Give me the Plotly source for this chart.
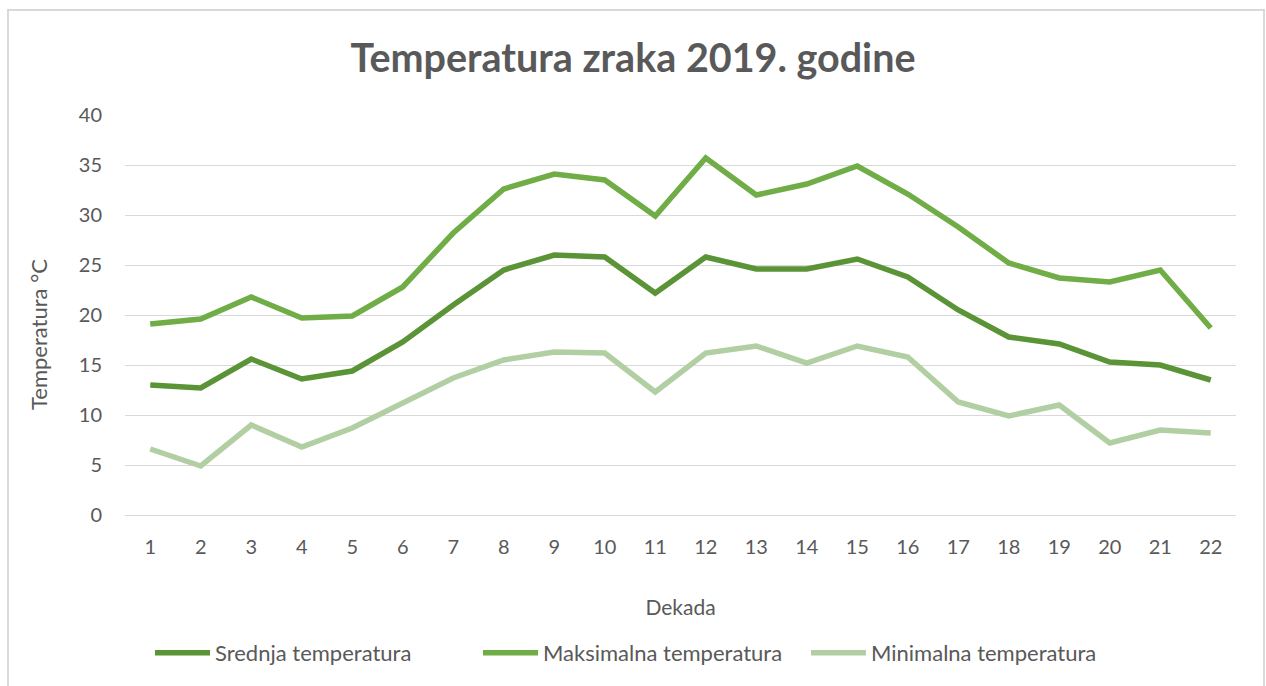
import plotly.graph_objects as go

dekade = list(range(1, 23))
srednja = [13.0, 12.7, 15.6, 13.6, 14.4, 17.3, 21.0, 24.5, 26.0, 25.8, 22.2,
           25.8, 24.6, 24.6, 25.6, 23.8, 20.5, 17.8, 17.1, 15.3, 15.0, 13.5]
maksimalna = [19.1, 19.6, 21.8, 19.7, 19.9, 22.8, 28.2, 32.6, 34.1, 33.5, 29.9,
              35.7, 32.0, 33.1, 34.9, 32.1, 28.8, 25.2, 23.7, 23.3, 24.5, 18.7]
minimalna = [6.6, 4.9, 9.0, 6.8, 8.7, 11.2, 13.7, 15.5, 16.3, 16.2, 12.3,
             16.2, 16.9, 15.2, 16.9, 15.8, 11.3, 9.9, 11.0, 7.2, 8.5, 8.2]
y_ticks = [0, 5, 10, 15, 20, 25, 30, 35, 40]

series = [
    ("Srednja temperatura", srednja, "#5B9337"),
    ("Maksimalna temperatura", maksimalna, "#70AD47"),
    ("Minimalna temperatura", minimalna, "#B1CFA2"),
]

font_family = "Lato, 'Open Sans', sans-serif"
text_color = "#595959"

W, H = 1266, 686
L, R, T, B = 125, 30, 115, 171
PW, PH = W - L - R, H - T - B

fig = go.Figure()
for name, vals, col in series:
    fig.add_trace(go.Scatter(
        x=dekade, y=vals, name=name, mode="lines",
        line=dict(color=col, width=5.5, shape="linear"),
    ))

fig.update_layout(
    width=W, height=H,
    margin=dict(l=L, r=R, t=T, b=B, autoexpand=False),
    paper_bgcolor="white", plot_bgcolor="white",
    font=dict(family=font_family, color=text_color, size=20),
    title=dict(text="<b>Temperatura zraka 2019. godine</b>",
               x=0.5, xanchor="center", y=1 - 58 / H, yanchor="middle",
               font=dict(size=39.5, color=text_color, family=font_family)),
    showlegend=True,
    legend=dict(orientation="h", x=(642 - L) / PW, xanchor="center",
                y=-(653 - (T + PH)) / PH, yanchor="middle",
                font=dict(size=22, color=text_color), itemwidth=55,
                entrywidth=258, traceorder="normal"),
    shapes=[dict(type="rect", xref="paper", yref="paper",
                 x0=(8 - L) / PW, x1=(1264 - L) / PW,
                 y0=-(720 - (T + PH)) / PH, y1=1 + (T - 10) / PH,
                 line=dict(color="#D9D9D9", width=2), fillcolor="rgba(0,0,0,0)",
                 layer="below")],
    annotations=[dict(text="Temperatura °C", xref="paper", yref="paper",
                      x=(38 - L) / PW, y=(T + PH - 335) / PH,
                      xanchor="center", yanchor="middle", textangle=-90,
                      showarrow=False, font=dict(size=22, color=text_color))],
)

fig.update_xaxes(
    range=[0.5, 22.5], tickmode="array", tickvals=dekade,
    ticktext=[str(d) for d in dekade], showgrid=False, zeroline=False,
    showline=False, ticks="", ticklabelstandoff=18, tickangle=0,
    title=dict(text="Dekada", font=dict(size=21, color=text_color), standoff=43),
    tickfont=dict(size=20, color=text_color),
)
fig.update_yaxes(
    range=[0, 40], tickmode="array", tickvals=y_ticks,
    showgrid=True, gridcolor="#D9D9D9", gridwidth=1.3, zeroline=True,
    zerolinecolor="#D9D9D9", zerolinewidth=1.3, showline=False, ticks="",
    ticklabelstandoff=22,
    tickfont=dict(size=20, color=text_color),
)

fig.write_html("out.html", config={"displayModeBar": False},
               post_script="document.body.style.margin='0px';")
